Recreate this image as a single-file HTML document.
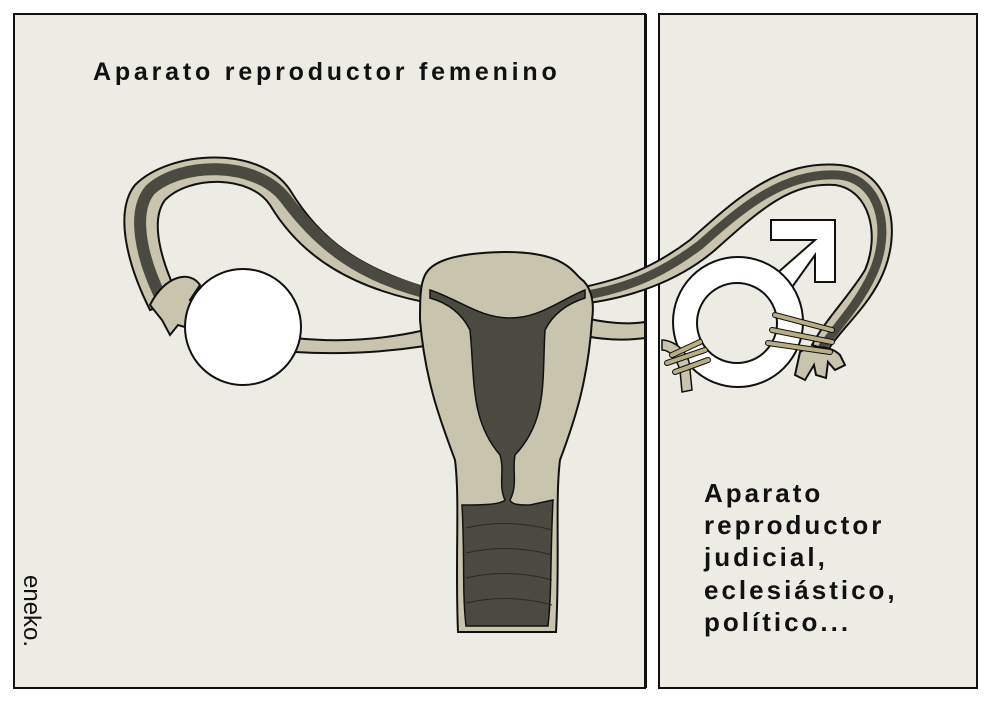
<!DOCTYPE html>
<html><head><meta charset="utf-8"><style>
html,body{margin:0;padding:0;background:#fff;}
svg{display:block}
text{font-family:"Liberation Sans",sans-serif;font-weight:bold;fill:#111}
</style></head><body>
<svg width="990" height="701" viewBox="0 0 990 701" xmlns="http://www.w3.org/2000/svg">
<rect width="990" height="701" fill="#ffffff"/>
<rect x="14" y="14" width="631" height="674" fill="#ecebe4" stroke="#111" stroke-width="2"/>
<rect x="659" y="14" width="318" height="674" fill="#ecebe4" stroke="#111" stroke-width="2"/>

<path d="M295 338 Q360 345 425 330 L425 346 Q360 356 295 352 Z" fill="#c8c4ad" stroke="#111" stroke-width="2"/>
<path d="M585 318 Q620 326 645 322 L645 338 Q615 342 585 336 Z" fill="#c8c4ad" stroke="#111" stroke-width="2"/>

<path d="M440 292 C360 270 320 240 290 190 C260 145 170 150 135 185 C115 210 125 260 150 310 L180 300 C160 260 150 220 165 200 C190 175 250 175 270 205 C300 255 350 290 440 305 Z" fill="#c8c4ad" stroke="#111" stroke-width="2"/>
<path d="M440 296 C360 278 320 245 285 198 C255 160 180 162 150 190 C132 212 140 255 162 300" fill="none" stroke="#4a4a40" stroke-width="12"/>
<path d="M150 305 C165 275 190 270 200 285 L190 300 L205 310 L190 318 L195 330 L178 325 L170 335 L162 320 Z" fill="#c8c4ad" stroke="#111" stroke-width="2"/>

<circle cx="243" cy="327" r="58" fill="#fff" stroke="#111" stroke-width="2"/>

<rect x="646" y="14" width="12" height="674" fill="#fff"/>
<line x1="646" y1="14" x2="646" y2="688" stroke="#111" stroke-width="2"/>
<line x1="659" y1="14" x2="659" y2="688" stroke="#111" stroke-width="2"/>

<path d="M570 290 C620 280 650 270 690 240 C740 195 780 160 840 165 C890 170 905 230 880 280 C865 310 840 330 828 350 L812 345 C825 320 850 295 865 270 C880 235 870 190 835 185 C790 182 760 210 715 250 C680 280 630 300 570 305 Z" fill="#c8c4ad" stroke="#111" stroke-width="2"/>
<path d="M570 298 C625 290 660 275 700 245 C745 205 785 172 838 175 C880 178 893 230 872 275 C858 305 838 325 822 348" fill="none" stroke="#4a4a40" stroke-width="9"/>

<path d="M425 275 C430 265 445 253 505 252 C560 252 570 268 580 278 C590 285 595 300 592 320 C588 380 575 420 560 460 C555 500 560 560 556 632 L458 632 C455 560 460 500 455 460 C440 420 425 380 420 320 C420 300 420 285 425 275 Z" fill="#c8c4ad" stroke="#111" stroke-width="2"/>
<path d="M430 290 C460 300 480 318 510 318 C540 318 560 300 585 290 L585 298 C560 306 550 320 545 330 C542 380 548 420 515 455 C512 470 518 485 510 500 C512 505 520 505 530 505 L553 500 C550 560 552 590 548 626 L466 626 C462 590 465 560 462 505 C480 505 500 505 505 500 C498 485 505 470 500 455 C470 420 475 380 470 330 C465 320 455 305 430 298 Z" fill="#4a4a40" stroke="#111" stroke-width="1.5"/>
<g stroke="#2a2a22" stroke-width="1" fill="none">
<path d="M466 528 Q508 518 552 530"/><path d="M466 553 Q508 543 552 555"/><path d="M466 578 Q508 568 552 580"/><path d="M466 603 Q508 593 552 605"/>
</g>

<path d="M775 275 L815 240 L797 240 L771 240 L771 220 L835 220 L835 282 L815 282 L815 255 L790 290 Z" fill="#fff" stroke="#111" stroke-width="2"/>
<path fill-rule="evenodd" d="M803 322 A65 65 0 1 1 673 322 A65 65 0 1 1 803 322 Z M777 323 A40 40 0 1 0 697 323 A40 40 0 1 0 777 323 Z" fill="#fff" stroke="#111" stroke-width="2"/>
<path d="M800 352 C810 345 830 345 840 355 L845 365 L835 370 L828 362 L826 378 L816 375 L814 365 L805 380 L795 375 Z" fill="#c8c4ad" stroke="#111" stroke-width="2"/>
<path d="M662 340 C672 340 690 350 690 370 L692 390 L682 392 L680 370 C675 355 668 350 662 350 Z" fill="#c8c4ad" stroke="#111" stroke-width="1.5"/>
<g stroke="#111" stroke-width="6" stroke-linecap="round"><path d="M672 355 L700 342"/><path d="M667 363 L705 350"/><path d="M675 372 L708 360"/><path d="M775 315 L832 330"/><path d="M772 330 L832 342"/><path d="M768 343 L830 352"/></g>
<g stroke="#b8ae84" stroke-width="4" stroke-linecap="round"><path d="M672 355 L700 342"/><path d="M667 363 L705 350"/><path d="M675 372 L708 360"/><path d="M775 315 L832 330"/><path d="M772 330 L832 342"/><path d="M768 343 L830 352"/></g>

<text x="93" y="80" font-size="25" letter-spacing="3.8">Aparato reproductor femenino</text>
<g font-size="26" letter-spacing="3"><text x="704" y="502">Aparato</text><text x="704" y="534">reproductor</text><text x="704" y="566">judicial,</text><text x="704" y="599">eclesiástico,</text><text x="704" y="631">político...</text></g>
<text transform="translate(24 575) rotate(90)" font-size="24" style="font-weight:normal" fill="#666">eneko.</text>
</svg>
</body></html>
